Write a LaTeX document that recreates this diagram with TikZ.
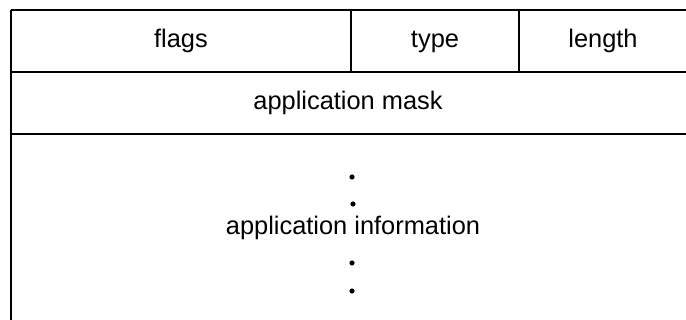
\documentclass[tikz,border=0pt]{standalone}
\usepackage{fontspec}
\setmainfont{Liberation Sans}
\begin{document}
\begin{tikzpicture}[x=0.5pt,y=-0.5pt,
  rule/.style={line width=1pt,black},
  lbl/.style={font=\fontsize{12.7}{14}\selectfont,inner sep=0pt,anchor=base},
  dotmark/.style={fill=black,circle,inner sep=0pt,minimum size=2.6pt}]
\useasboundingbox (0,0) rectangle (686,320);
% frame lines
\coordinate (tl) at (11,10);
\coordinate (tr) at (686,10);
\coordinate (ml) at (11,72);
\coordinate (mr) at (686,72);
\coordinate (bl) at (11,134);
\coordinate (br) at (686,134);
\coordinate (lb) at (11,320);
\coordinate (d1t) at (351,10);
\coordinate (d1b) at (351,72);
\coordinate (d2t) at (519,10);
\coordinate (d2b) at (519,72);
\draw[rule] (tl) -- (tr);
\draw[rule] (ml) -- (mr);
\draw[rule] (bl) -- (br);
\draw[rule] (tl) -- (lb);
\draw[rule] (d1t) -- (d1b);
\draw[rule] (d2t) -- (d2b);
% labels
\node[lbl] (flags) at (181,48) {flags};
\node[lbl] (type) at (435,48) {type};
\node[lbl] (length) at (603,48) {length};
\node[lbl] (mask) at (348,110) {application mask};
\node[lbl] (info) at (353,235) {application information};
% dots
\node[dotmark] (d1) at (352,177) {};
\node[dotmark] (d2) at (353,204) {};
\node[dotmark] (d3) at (352,263) {};
\node[dotmark] (d4) at (352,291) {};
\end{tikzpicture}
\end{document}
